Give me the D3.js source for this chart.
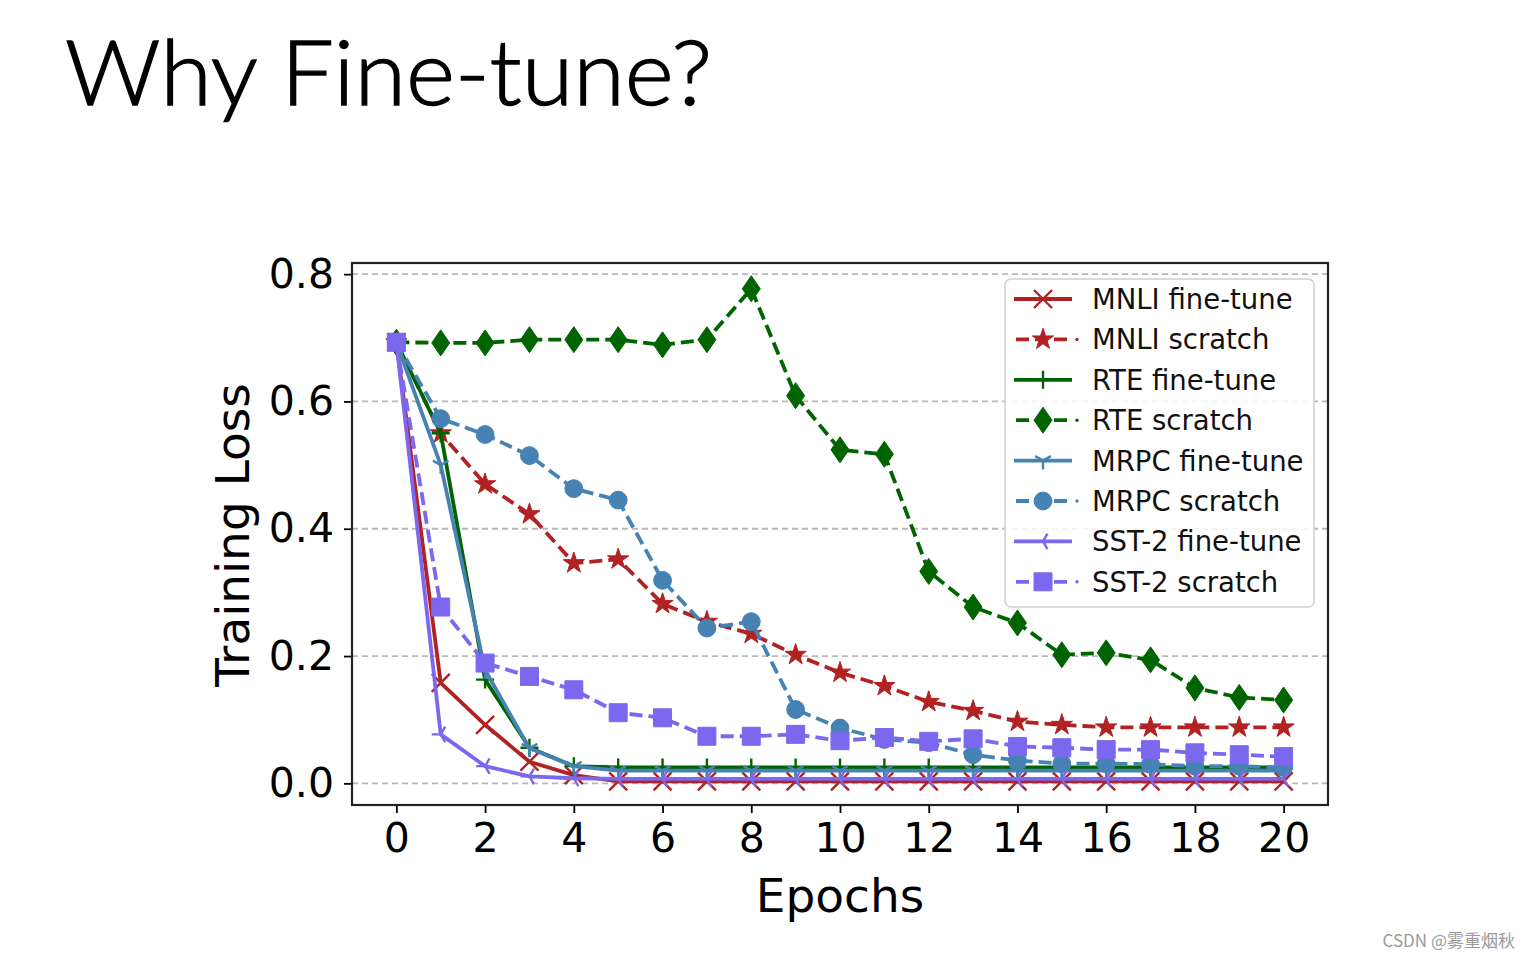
<!DOCTYPE html>
<html>
<head>
<meta charset="utf-8">
<script src="https://cdn.jsdelivr.net/npm/d3@7"></script>
<style>
html,body{margin:0;padding:0;background:#fff;}
svg{display:block;}
</style>
</head>
<body>
<svg id="chart" width="1531" height="959"></svg>
<script>
const epochs = [0,1,2,3,4,5,6,7,8,9,10,11,12,13,14,15,16,17,18,19,20];
const xTicks = [0,2,4,6,8,10,12,14,16,18,20];
const yTicks = [0.0,0.2,0.4,0.6,0.8];

const mnliFine    = [0.693,0.158,0.092,0.034,0.013,0.003,0.003,0.003,0.003,0.003,0.003,0.003,0.003,0.003,0.003,0.003,0.003,0.003,0.003,0.003,0.003];
const mnliScratch = [0.693,0.550,0.470,0.423,0.346,0.352,0.282,0.254,0.235,0.202,0.174,0.153,0.128,0.114,0.097,0.092,0.088,0.088,0.088,0.088,0.088];
const rteFine     = [0.693,0.550,0.163,0.056,0.027,0.025,0.025,0.025,0.025,0.025,0.025,0.025,0.025,0.025,0.025,0.025,0.025,0.025,0.025,0.025,0.025];
const rteScratch  = [0.693,0.692,0.692,0.697,0.697,0.697,0.689,0.697,0.777,0.609,0.524,0.517,0.333,0.277,0.252,0.202,0.205,0.194,0.150,0.135,0.131];
const mrpcFine    = [0.693,0.500,0.178,0.055,0.027,0.020,0.020,0.020,0.020,0.020,0.020,0.020,0.020,0.020,0.020,0.020,0.020,0.020,0.020,0.020,0.020];
const mrpcScratch = [0.693,0.573,0.548,0.515,0.463,0.445,0.319,0.244,0.254,0.116,0.087,0.069,0.064,0.045,0.036,0.031,0.031,0.030,0.027,0.027,0.025];
const sstFine     = [0.693,0.077,0.027,0.011,0.008,0.007,0.007,0.007,0.007,0.007,0.007,0.007,0.007,0.007,0.007,0.007,0.007,0.007,0.007,0.007,0.007];
const sstScratch  = [0.693,0.277,0.189,0.168,0.147,0.111,0.103,0.074,0.074,0.077,0.067,0.072,0.066,0.070,0.058,0.056,0.053,0.053,0.048,0.045,0.042];

const seriesNames = ["MNLI fine-tune","MNLI scratch","RTE fine-tune","RTE scratch","MRPC fine-tune","MRPC scratch","SST-2 fine-tune","SST-2 scratch"];
const seriesData = [mnliFine,mnliScratch,rteFine,rteScratch,mrpcFine,mrpcScratch,sstFine,sstScratch];
const seriesColors = ["#b22222","#b22222","#006400","#006400","#4682b4","#4682b4","#7b68ee","#7b68ee"];
const seriesMarkers = ["x","star","plus","thindiamond","tridown","circle","trileft","square"];
const seriesDashed = [false,true,false,true,false,true,false,true];

const titleText = "Why Fine-tune?";
const xLabel = "Epochs";
const yLabel = "Training Loss";
const watermark = "CSDN @雾重烟秋";

const svg = d3.select("#chart");
const L = 352, R = 1328, T = 263, B = 805;
const x = d3.scaleLinear().domain([-1,21]).range([L,R]);
const y = d3.scaleLinear().domain([-0.034,0.8175]).range([B,T]);

// title
const title = svg.append("text").attr("x",65).attr("y",105)
  .attr("font-family","Lato, 'Open Sans', sans-serif").attr("font-size",90)
  .attr("font-weight",300)
  .attr("fill","#000").attr("stroke","#000").attr("stroke-width",1.3).text(titleText);
title.attr("textLength",647).attr("lengthAdjust","spacingAndGlyphs");

// grid
svg.append("g").selectAll("line").data(yTicks).join("line")
  .attr("x1",L).attr("x2",R).attr("y1",d=>y(d)).attr("y2",d=>y(d))
  .attr("stroke","#b8b8b8").attr("stroke-width",1.8).attr("stroke-dasharray","6,4");

// axes
const tickFont = "'DejaVu Sans', sans-serif";
const xAxis = svg.append("g").attr("transform",`translate(0,${B})`)
  .call(d3.axisBottom(x).tickValues(xTicks).tickSize(8).tickPadding(10).tickFormat(d3.format("d")));
xAxis.select(".domain").remove();
xAxis.selectAll("line").attr("stroke","#000").attr("stroke-width",1.8);
xAxis.selectAll("text").attr("font-family",tickFont).attr("font-size",41).attr("fill","#000");

const yAxis = svg.append("g").attr("transform",`translate(${L},0)`)
  .call(d3.axisLeft(y).tickValues(yTicks).tickSize(8).tickPadding(10).tickFormat(d3.format(".1f")));
yAxis.select(".domain").remove();
yAxis.selectAll("line").attr("stroke","#000").attr("stroke-width",1.8);
yAxis.selectAll("text").attr("font-family",tickFont).attr("font-size",41).attr("fill","#000");

// frame
svg.append("rect").attr("x",L).attr("y",T).attr("width",R-L).attr("height",B-T)
  .attr("fill","none").attr("stroke","#222").attr("stroke-width",2.2);

// axis labels
svg.append("text").attr("x",(L+R)/2).attr("y",912).attr("text-anchor","middle")
  .attr("font-family",tickFont).attr("font-size",47).attr("fill","#000").text(xLabel);
svg.append("text").attr("transform","translate(249,535) rotate(-90)").attr("text-anchor","middle")
  .attr("font-family",tickFont).attr("font-size",47).attr("fill","#000").text(yLabel);

// marker paths
function markerPath(type){
  const s = 9;
  switch(type){
    case "x": return `M${-s},${-s}L${s},${s}M${-s},${s}L${s},${-s}`;
    case "plus": return `M0,${-s}L0,${s}M${-s},0L${s},0`;
    case "tridown": return `M0,0L0,${s}M0,0L${-s*0.866},${-s*0.5}M0,0L${s*0.866},${-s*0.5}`;
    case "trileft": return `M0,0L${-s},0M0,0L${s*0.5},${-s*0.866}M0,0L${s*0.5},${s*0.866}`;
    case "thindiamond": return "M0,-13L9,0L0,13L-9,0Z";
    case "circle": return d3.symbol(d3.symbolCircle,250)();
    case "square": return "M-9,-9L9,-9L9,9L-9,9Z";
    case "star": return d3.symbol(d3.symbolStar,140)();
  }
}
const filled = t => ["thindiamond","circle","square","star"].includes(t);

const line = d3.line().x((d,i)=>x(epochs[i])).y(d=>y(d));
const plot = svg.append("g");
seriesData.forEach((vals,k)=>{
  const g = plot.append("g");
  g.append("path").datum(vals).attr("d",line).attr("fill","none")
    .attr("stroke",seriesColors[k]).attr("stroke-width",3.8)
    .attr("stroke-linejoin","round")
    .attr("stroke-dasharray",seriesDashed[k]?"13,6":null);
  const mk = seriesMarkers[k];
  g.selectAll("path.m").data(vals).join("path").attr("class","m")
    .attr("transform",(d,i)=>`translate(${x(epochs[i])},${y(d)})`)
    .attr("d",markerPath(mk))
    .attr("fill",filled(mk)?seriesColors[k]:"none")
    .attr("stroke",seriesColors[k]).attr("stroke-width",filled(mk)?1:2.4);
});

// legend
const lg = svg.append("g");
lg.append("rect").attr("x",1005).attr("y",279).attr("width",309).attr("height",328)
  .attr("rx",6).attr("fill","#fff").attr("fill-opacity",0.85)
  .attr("stroke","#d0d0d0").attr("stroke-width",1.5);
seriesNames.forEach((name,k)=>{
  const cy = 299 + k*40.4;
  const mk = seriesMarkers[k];
  if(seriesDashed[k]){
    lg.append("line").attr("x1",1016).attr("x2",1068).attr("y1",cy).attr("y2",cy)
      .attr("stroke",seriesColors[k]).attr("stroke-width",3.8).attr("stroke-dasharray","13,6");
    lg.append("circle").attr("cx",1077).attr("cy",cy).attr("r",1.7).attr("fill",seriesColors[k]);
  } else {
    lg.append("line").attr("x1",1014).attr("x2",1072).attr("y1",cy).attr("y2",cy)
      .attr("stroke",seriesColors[k]).attr("stroke-width",3.8);
  }
  lg.append("path").attr("transform",`translate(1043,${cy})`).attr("d",markerPath(mk))
    .attr("fill",filled(mk)?seriesColors[k]:"none")
    .attr("stroke",seriesColors[k]).attr("stroke-width",filled(mk)?1:2.4);
  lg.append("text").attr("x",1092).attr("y",cy+10).attr("font-family",tickFont)
    .attr("font-size",27.5).attr("fill","#111").text(name);
});

// watermark
svg.append("text").attr("x",1515).attr("y",947).attr("text-anchor","end")
  .attr("font-family","'Noto Sans CJK SC', 'Noto Sans', sans-serif").attr("font-size",17)
  .attr("fill","#9a9a9a").text(watermark);
</script>
</body>
</html>
